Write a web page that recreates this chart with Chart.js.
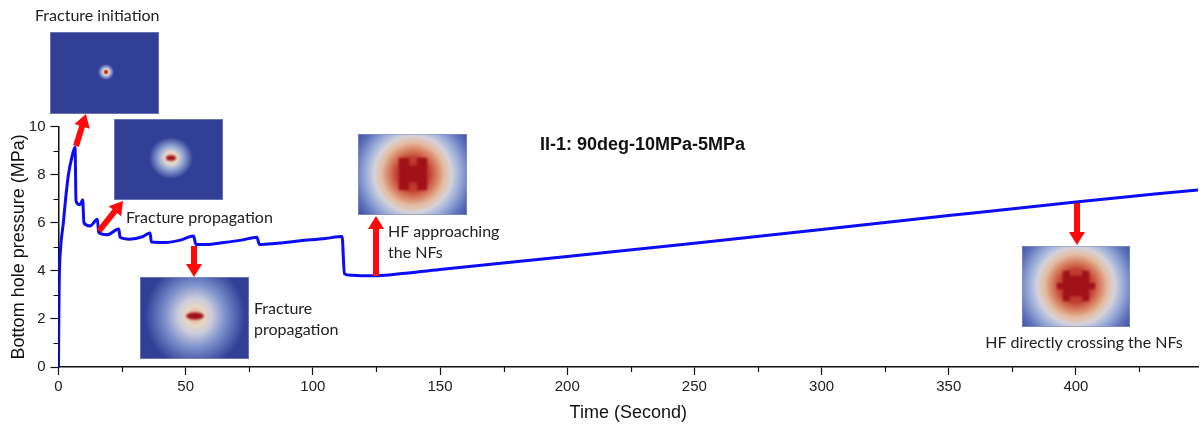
<!DOCTYPE html>
<html>
<head>
<meta charset="utf-8">
<script src="https://cdn.jsdelivr.net/npm/chart.js@4.4.1/dist/chart.umd.min.js"></script>
<style>
  html, body { margin: 0; padding: 0; background: #fff; }
  #wrap { width: 1204px; height: 424px; }
</style>
</head>
<body>
<div id="wrap"><canvas id="bhp"></canvas></div>
<script>
// bottom hole pressure vs time
const timeSec = [0, 0.1, 0.3, 0.8, 1.9, 2.8, 3.9, 5.2, 6.5, 6.9, 8.5, 9.5, 10.0, 12.4, 15.3, 15.8, 19, 23.7, 24.2, 28, 33, 36.0, 36.5, 42, 48, 53.1, 54, 58, 65, 72, 78, 79, 85, 95, 105, 111.5, 112.4, 115, 120, 125, 130, 150, 200, 250, 300, 350, 400, 448];
const pressureMPa = [0, 1.6, 3.6, 4.9, 6.0, 7.0, 8.0, 8.7, 9.14, 6.9, 6.75, 6.96, 6.0, 5.87, 6.15, 5.6, 5.5, 5.74, 5.4, 5.32, 5.42, 5.58, 5.2, 5.18, 5.28, 5.45, 5.1, 5.1, 5.18, 5.28, 5.4, 5.1, 5.14, 5.25, 5.35, 5.43, 3.88, 3.82, 3.8, 3.8, 3.83, 4.06, 4.6, 5.15, 5.72, 6.3, 6.87, 7.37];

const xTicks = [0, 50, 100, 150, 200, 250, 300, 350, 400];
const xMinor = [25, 75, 125, 175, 225, 275, 325, 375, 425];
const yTicks = [0, 2, 4, 6, 8, 10];
const yMinor = [1, 3, 5, 7, 9];

const chartTitle = 'II-1: 90deg-10MPa-5MPa';

// snapshots of the simulated field placed around the curve
const DKBLUE = 'rgb(50,63,150)';

function clipRect(ctx, x, y, w, h) {
  ctx.beginPath();
  ctx.rect(x, y, w, h);
  ctx.clip();
}

function glow(ctx, cx, cy, r, sx, sy, stops) {
  ctx.save();
  ctx.translate(cx, cy);
  ctx.scale(sx, sy);
  const g = ctx.createRadialGradient(0, 0, 0, 0, 0, r);
  stops.forEach(s => g.addColorStop(s[0], s[1]));
  ctx.fillStyle = g;
  ctx.fillRect(-400, -400, 800, 800);
  ctx.restore();
}

function drawField(ctx, f) {
  ctx.save();
  clipRect(ctx, f.x, f.y, f.w, f.h);
  ctx.fillStyle = DKBLUE;
  ctx.fillRect(f.x, f.y, f.w, f.h);
  glow(ctx, f.cx, f.cy, f.r, f.sx || 1, f.sy || 1, f.stops);
  if (f.core) {
    ctx.filter = 'blur(1.2px)';
    ctx.fillStyle = 'rgb(160,18,24)';
    f.core(ctx, f.cx, f.cy);
    ctx.filter = 'none';
  }
  ctx.restore();
  ctx.strokeStyle = 'rgba(140,150,200,0.6)';
  ctx.lineWidth = 1;
  ctx.strokeRect(f.x + 0.5, f.y + 0.5, f.w - 1, f.h - 1);
}

const bigStops = [
  [0, 'rgb(175,30,30)'], [0.24, 'rgb(195,65,50)'], [0.34, 'rgb(215,125,95)'],
  [0.45, 'rgb(228,188,160)'], [0.55, 'rgb(214,210,218)'], [0.66, 'rgb(160,178,218)'],
  [0.83, 'rgb(95,115,188)'], [1, 'rgb(55,68,155)']
];

const fields = [
  { x: 50, y: 32, w: 109, h: 82, cx: 106, cy: 72, r: 8,
    stops: [[0, 'rgb(175,20,20)'], [0.18, 'rgb(200,60,40)'], [0.35, 'rgb(236,214,190)'], [0.6, 'rgb(150,170,215)'], [1, DKBLUE]] },
  { x: 114, y: 119, w: 109, h: 81, cx: 171, cy: 158, r: 22, sy: 0.95,
    stops: [[0, 'rgb(236,200,175)'], [0.3, 'rgb(230,216,202)'], [0.55, 'rgb(150,170,215)'], [1, DKBLUE]],
    core: (c, x, y) => { c.beginPath(); c.ellipse(x, y, 5, 2.8, 0, 0, Math.PI * 2); c.fill(); } },
  { x: 140, y: 277, w: 109, h: 82, cx: 195, cy: 316, r: 50, sy: 1.05,
    stops: [[0, 'rgb(225,165,135)'], [0.18, 'rgb(232,214,195)'], [0.33, 'rgb(205,205,220)'], [0.6, 'rgb(125,145,205)'], [1, DKBLUE]],
    core: (c, x, y) => { c.beginPath(); c.ellipse(x, y, 9, 3.5, 0, 0, Math.PI * 2); c.fill(); } },
  { x: 358, y: 134, w: 109, h: 81, cx: 413, cy: 174, r: 70, stops: bigStops,
    core: (c, x, y) => {
      c.fillRect(x - 14, y - 16, 10, 32);
      c.fillRect(x + 4, y - 16, 10, 32);
      c.fillRect(x - 8, y - 8, 16, 16);
    } },
  { x: 1022, y: 246, w: 108, h: 81, cx: 1076, cy: 286, r: 70, stops: bigStops,
    core: (c, x, y) => {
      c.fillRect(x - 19, y - 3, 38, 6);
      c.fillRect(x - 13, y - 15, 7, 30);
      c.fillRect(x + 6, y - 15, 7, 30);
      c.fillRect(x - 8, y - 10, 16, 20);
    } }
];

const arrows = [
  [76, 146, 86, 114],
  [99, 231, 123, 201],
  [194, 246, 194, 277],
  [376, 276, 376, 216],
  [1077, 203, 1077, 245]
];

const notes = [
  { text: ['Fracture initiation'], x: 35, y: 16 },
  { text: ['Fracture propagation'], x: 126, y: 218 },
  { text: ['Fracture', 'propagation'], x: 254, y: 309 },
  { text: ['HF approaching', 'the NFs'], x: 388, y: 232 },
  { text: ['HF directly crossing the NFs'], x: 1084, y: 343, center: true }
];

function drawArrow(ctx, x1, y1, x2, y2) {
  const ang = Math.atan2(y2 - y1, x2 - x1);
  const len = Math.hypot(x2 - x1, y2 - y1);
  const headL = 13, headW = 8, shaftW = 3;
  ctx.save();
  ctx.translate(x1, y1);
  ctx.rotate(ang);
  ctx.fillStyle = '#ff0a0a';
  ctx.beginPath();
  ctx.moveTo(0, -shaftW);
  ctx.lineTo(len - headL, -shaftW);
  ctx.lineTo(len - headL, -headW);
  ctx.lineTo(len, 0);
  ctx.lineTo(len - headL, headW);
  ctx.lineTo(len - headL, shaftW);
  ctx.lineTo(0, shaftW);
  ctx.closePath();
  ctx.fill();
  ctx.restore();
}

const decorPlugin = {
  id: 'decor',
  afterDraw(chart) {
    const ctx = chart.ctx;
    const xs = chart.scales.x, ys = chart.scales.y;
    // minor ticks
    ctx.save();
    ctx.strokeStyle = '#111';
    ctx.lineWidth = 1.2;
    ctx.beginPath();
    xMinor.forEach(v => {
      const px = Math.round(xs.getPixelForValue(v)) + 0.5;
      ctx.moveTo(px, ys.bottom);
      ctx.lineTo(px, ys.bottom + 5);
    });
    yMinor.forEach(v => {
      const py = Math.round(ys.getPixelForValue(v)) + 0.5;
      ctx.moveTo(xs.left, py);
      ctx.lineTo(xs.left - 5, py);
    });
    ctx.stroke();
    ctx.restore();

    fields.forEach(f => drawField(ctx, f));
    arrows.forEach(a => drawArrow(ctx, a[0], a[1], a[2], a[3]));

    ctx.save();
    ctx.fillStyle = '#222';
    ctx.font = '16px Lato';
    ctx.textBaseline = 'middle';
    notes.forEach(n => {
      ctx.textAlign = n.center ? 'center' : 'left';
      n.text.forEach((t, i) => ctx.fillText(t, n.x, n.y + i * 21));
    });
    ctx.font = 'bold 18px "Liberation Sans", Arial';
    ctx.fillStyle = '#111';
    ctx.textAlign = 'left';
    ctx.fillText(chartTitle, 540, 145);
    ctx.restore();
  }
};

const points = timeSec.map((t, i) => ({ x: t, y: pressureMPa[i] }));

new Chart(document.getElementById('bhp'), {
  type: 'line',
  data: {
    datasets: [
      {
        data: points,
        borderColor: 'rgb(12,12,245)',
        borderWidth: 3,
        pointRadius: 0,
        cubicInterpolationMode: 'monotone',
        fill: false,
      },
    ],
  },
  options: {
    responsive: true,
    maintainAspectRatio: false,
    animation: false,
    layout: {
      padding: { top: 126.7, right: 6, left: 0, bottom: 0 },
    },
    scales: {
      x: {
        type: 'linear',
        min: 0,
        max: 448,
        afterBuildTicks: (scale) => {
          scale.ticks = xTicks.map(v => ({ value: v }));
        },
        afterFit: (scale) => { scale.height = 57; },
        ticks: {
          color: '#222',
          font: { family: '"Liberation Sans", Arial', size: 15 },
          padding: 3,
          maxRotation: 0,
        },
        grid: {
          drawOnChartArea: false,
          tickLength: 8,
          tickColor: '#111',
          tickWidth: 1.2,
        },
        border: { color: '#111', width: 1.5 },
        title: {
          display: true,
          text: 'Time (Second)',
          color: '#111',
          font: { family: '"Liberation Sans", Arial', size: 18 },
          padding: { top: 3, bottom: 0 },
        },
      },
      y: {
        min: 0,
        max: 10,
        afterBuildTicks: (scale) => {
          scale.ticks = yTicks.map(v => ({ value: v }));
        },
        afterFit: (scale) => { scale.width = 58.5; },
        ticks: {
          color: '#222',
          font: { family: '"Liberation Sans", Arial', size: 15 },
          padding: 5,
        },
        grid: {
          drawOnChartArea: false,
          tickLength: 8,
          tickColor: '#111',
          tickWidth: 1.2,
        },
        border: { color: '#111', width: 1.5 },
        title: {
          display: true,
          text: 'Bottom hole pressure (MPa)',
          color: '#111',
          font: { family: '"Liberation Sans", Arial', size: 18 },
          padding: { top: 8, bottom: 0 },
        },
      },
    },
    plugins: {
      legend: { display: false },
      tooltip: { enabled: false },
    },
  },
  plugins: [decorPlugin],
});
</script>
</body>
</html>
